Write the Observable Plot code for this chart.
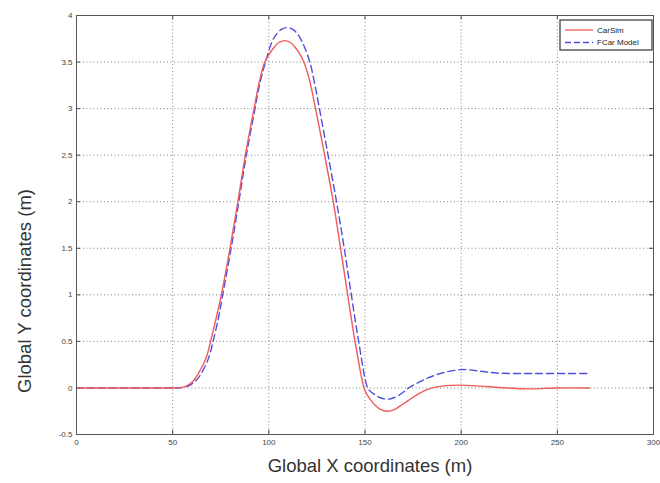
<!DOCTYPE html>
<html><head><meta charset="utf-8">
<script src="https://cdn.jsdelivr.net/npm/d3@7"></script>
<script src="https://cdn.jsdelivr.net/npm/@observablehq/plot@0.6"></script>
<style>
body{margin:0;background:#fff;}
#chart{position:relative;width:660px;height:483px;}
</style>
</head><body><div id="chart"></div>
<script>
const xTicks = [0, 50, 100, 150, 200, 250, 300];
const yTicks = [-0.5, 0, 0.5, 1, 1.5, 2, 2.5, 3, 3.5, 4];
const seriesNames = ["CarSim", "FCar Model"];
const xLabel = "Global X coordinates (m)";
const yLabel = "Global Y coordinates (m)";

const carsimX = [0, 50, 54, 57, 60, 62, 64, 66.3, 68, 69.7, 72.5, 75.3, 79.8, 83.9, 87.8, 92.3, 95.2, 97.9, 100.7, 103.2, 105.2, 108.2, 111.2, 113.2, 115.7, 118.2, 121.2, 124.3, 129, 133.5, 137.3, 141, 144.8, 149.5, 151, 153, 155, 158, 161.5, 165, 170, 175, 180, 185, 190, 199.5, 210, 220, 235, 250, 266.7];
const carsimY = [0, 0, 0.003, 0.02, 0.06, 0.11, 0.18, 0.27, 0.36, 0.5, 0.74, 1.0, 1.5, 2.0, 2.5, 3.0, 3.3, 3.5, 3.6, 3.67, 3.71, 3.73, 3.71, 3.67, 3.6, 3.5, 3.3, 3.0, 2.5, 2.0, 1.5, 1.0, 0.5, 0, -0.07, -0.13, -0.18, -0.23, -0.25, -0.235, -0.17, -0.1, -0.04, 0, 0.02, 0.03, 0.02, 0.005, -0.01, 0, 0];

const fcarX = [0, 50, 55, 58, 61, 63, 65, 67.5, 69.3, 71, 73.7, 76, 80.4, 84.4, 88.3, 92.8, 95.3, 98.3, 101.5, 104, 106.5, 109.5, 112.5, 115, 117.5, 121.3, 123.8, 126.3, 130.8, 135.2, 139.2, 142.9, 146.7, 151.4, 153, 155, 158, 161.8, 165, 169, 172.7, 177, 183, 190, 200.4, 210, 218.6, 240, 265.3];
const fcarY = [0, 0, 0.003, 0.02, 0.06, 0.1, 0.16, 0.26, 0.36, 0.5, 0.74, 1.0, 1.5, 2.0, 2.5, 3.0, 3.27, 3.5, 3.71, 3.8, 3.85, 3.87, 3.85, 3.8, 3.71, 3.5, 3.27, 3.0, 2.5, 2.0, 1.5, 1.0, 0.5, 0, -0.04, -0.07, -0.105, -0.12, -0.105, -0.06, 0, 0.05, 0.11, 0.16, 0.197, 0.18, 0.16, 0.155, 0.155];

const colors = ["#f05a5a", "#4f4fdd"];
const carsim = carsimX.map((x, i) => ({x, y: carsimY[i]}));
const fcar = fcarX.map((x, i) => ({x, y: fcarY[i]}));

const font = "Liberation Sans, Arial, sans-serif";
const yMin = yTicks[0], yMax = yTicks[yTicks.length - 1];
const tickLenY = (yMax - yMin) * 0.01;
const tickLenX = (xTicks[xTicks.length-1] - xTicks[0]) * 0.007;

const chart = Plot.plot({
  width: 660,
  height: 483,
  marginLeft: 76,
  marginRight: 7,
  marginTop: 15,
  marginBottom: 49,
  style: {fontFamily: font, background: "#fff"},
  x: {domain: [0, 300]},
  y: {domain: [yMin, yMax]},
  marks: [
    Plot.gridX(xTicks, {stroke: "#777", strokeOpacity: 0.9, strokeDasharray: "1,2.5", strokeWidth: 1}),
    Plot.gridY(yTicks, {stroke: "#777", strokeOpacity: 0.9, strokeDasharray: "1,2.5", strokeWidth: 1}),
    Plot.ruleX(xTicks, {x: d => d, y1: yMin, y2: yMin + tickLenY, stroke: "#444"}),
    Plot.ruleX(xTicks, {x: d => d, y1: yMax, y2: yMax - tickLenY, stroke: "#444"}),
    Plot.ruleY(yTicks, {y: d => d, x1: 0, x2: tickLenX, stroke: "#444"}),
    Plot.ruleY(yTicks, {y: d => d, x1: 300, x2: 300 - tickLenX, stroke: "#444"}),
    Plot.axisX(xTicks, {tickSize: 0, tickPadding: 5, fontSize: 8, fill: "#444", label: null}),
    Plot.axisY(yTicks, {tickSize: 0, tickPadding: 4, fontSize: 8, fill: "#444", label: null, tickFormat: d => String(d)}),
    Plot.line(fcar, {x: "x", y: "y", stroke: colors[1], strokeWidth: 1.4, strokeDasharray: "7,4", curve: "catmull-rom"}),
    Plot.line(carsim, {x: "x", y: "y", stroke: colors[0], strokeWidth: 1.4, curve: "catmull-rom"}),
    Plot.frame({stroke: "#555"})
  ]
});

const svg = d3.select(chart);
// Axis titles
svg.append("text").attr("x", 370).attr("y", 467).attr("text-anchor", "middle").attr("dominant-baseline", "middle")
  .attr("font-size", 18.5).attr("font-family", font).attr("fill", "#333").text(xLabel);
svg.append("text").attr("transform", "translate(26,291) rotate(-90)").attr("text-anchor", "middle").attr("dominant-baseline", "middle")
  .attr("font-size", 18.5).attr("font-family", font).attr("fill", "#333").text(yLabel);

// Legend box (top-right, inside plot area)
const lg = svg.append("g").attr("transform", "translate(560,20)").attr("text-anchor", "start");
lg.append("rect").attr("width", 92).attr("height", 30).attr("fill", "#fff").attr("stroke", "#333").attr("stroke-width", 1.2);
seriesNames.forEach((name, i) => {
  const yy = 10 + i * 12.5;
  lg.append("line").attr("x1", 5).attr("x2", 33).attr("y1", yy).attr("y2", yy)
    .attr("stroke", colors[i]).attr("stroke-width", 1.3)
    .attr("stroke-dasharray", i === 1 ? "6,3" : null);
  lg.append("text").attr("x", 37).attr("y", yy).attr("dy", "0.35em").attr("text-anchor", "start")
    .attr("font-size", 8).attr("font-family", font).attr("fill", "#222").text(name);
});

document.getElementById("chart").appendChild(chart);
</script>
</body></html>
